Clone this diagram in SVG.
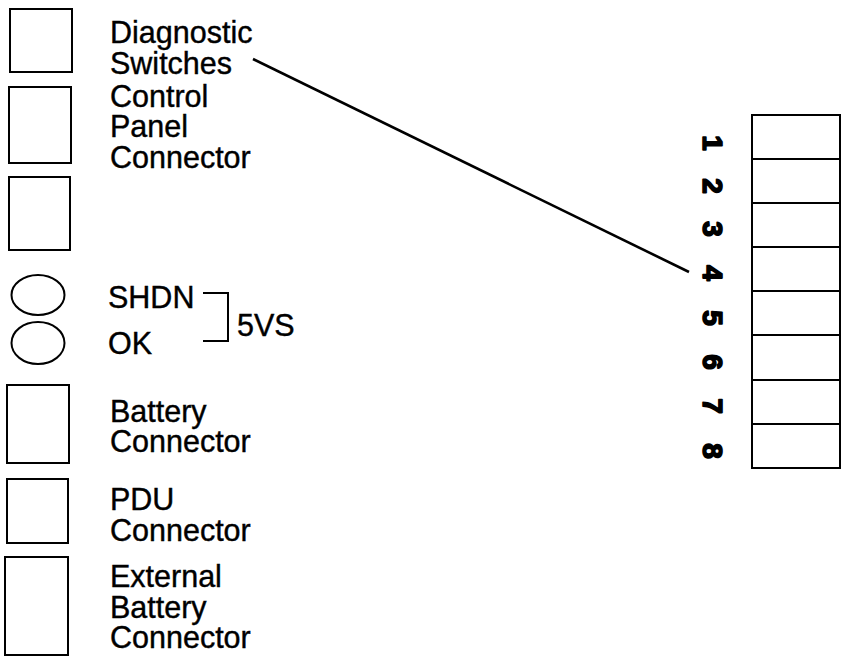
<svg xmlns="http://www.w3.org/2000/svg" width="841" height="656" viewBox="0 0 841 656">
<style>
.box{fill:none;stroke:#000;stroke-width:2}
.lbl{font-family:"Liberation Sans",Arial,sans-serif;font-size:30.5px;fill:#000;stroke:#000;stroke-width:0.4}
.num{font-family:"Liberation Sans",Arial,sans-serif;font-size:28px;font-weight:bold;fill:#000;stroke:#000;stroke-width:1.6;stroke-linejoin:round;text-anchor:middle}
.ln{fill:none;stroke:#000;stroke-width:2}
.lead{fill:none;stroke:#000;stroke-width:2.6}
</style>
<rect width="841" height="656" fill="#fff"/>
<g id="diag-switches">
<rect class="box" x="10" y="9" width="62" height="63"/>
<text class="lbl"><tspan x="110" y="43">Diagnostic</tspan><tspan x="110" y="74">Switches</tspan></text>
</g>
<g id="control-panel">
<rect class="box" x="9" y="87" width="62" height="76"/>
<text class="lbl"><tspan x="110" y="107">Control</tspan><tspan x="110" y="137">Panel</tspan><tspan x="110" y="168">Connector</tspan></text>
</g>
<g id="blank-box">
<rect class="box" x="9" y="177" width="61" height="73"/>
</g>
<g id="shdn-led">
<ellipse class="box" cx="38" cy="295" rx="26.5" ry="20"/>
<text class="lbl" x="108" y="308">SHDN</text>
</g>
<g id="ok-led">
<ellipse class="box" cx="38" cy="343" rx="26.5" ry="21"/>
<text class="lbl" x="108" y="354">OK</text>
</g>
<g id="five-vs">
<text class="lbl" x="237" y="336">5VS</text>
</g>
<g id="battery">
<rect class="box" x="7" y="385" width="62" height="78"/>
<text class="lbl"><tspan x="110" y="422">Battery</tspan><tspan x="110" y="452">Connector</tspan></text>
</g>
<g id="pdu">
<rect class="box" x="7" y="479" width="61" height="64"/>
<text class="lbl"><tspan x="110" y="510">PDU</tspan><tspan x="110" y="541">Connector</tspan></text>
</g>
<g id="ext-battery">
<rect class="box" x="5" y="557" width="63" height="98"/>
<text class="lbl"><tspan x="110" y="587">External</tspan><tspan x="110" y="618">Battery</tspan><tspan x="110" y="648">Connector</tspan></text>
</g>
<g id="switch-block">
<rect class="box" x="752" y="115" width="88" height="353"/>
<path class="ln" d="M752 159H840M752 203H840M752 247H840M752 291H840M752 335H840M752 380H840M752 424H840"/>
<text class="num" transform="translate(703,143) rotate(90)">1</text>
<text class="num" transform="translate(703,186) rotate(90)">2</text>
<text class="num" transform="translate(703,229) rotate(90)">3</text>
<text class="num" transform="translate(703,273) rotate(90)">4</text>
<text class="num" transform="translate(703,318) rotate(90)">5</text>
<text class="num" transform="translate(703,362) rotate(90)">6</text>
<text class="num" transform="translate(703,406) rotate(90)">7</text>
<text class="num" transform="translate(703,451) rotate(90)">8</text>
</g>
<g id="connectors">
<path class="ln" d="M203 293H228V341H203"/>
<path class="lead" d="M253 59L689 272"/>
</g>
</svg>
